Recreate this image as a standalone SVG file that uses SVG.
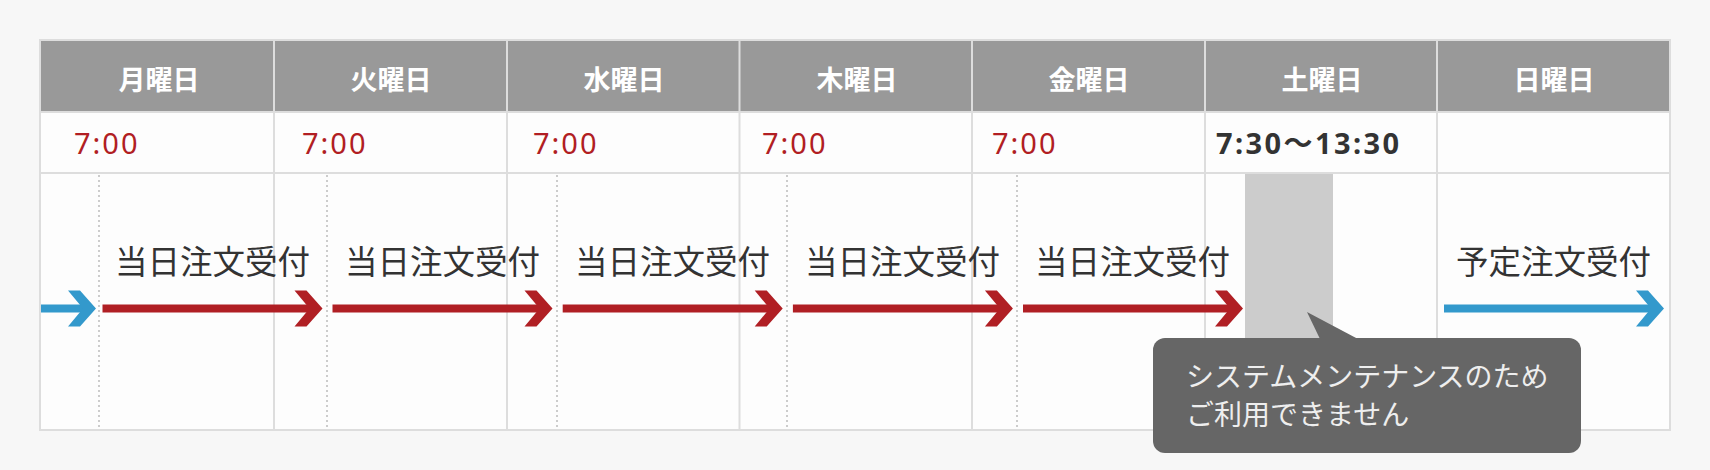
<svg xmlns="http://www.w3.org/2000/svg" width="1710" height="470" viewBox="0 0 1710 470">
<defs>
<style>
.day{font-family:"Noto Sans CJK JP","Noto Sans",sans-serif;font-weight:bold;font-size:27px;fill:#fff;text-anchor:middle}
.t{font-family:"Noto Sans","Noto Sans CJK JP",sans-serif;font-size:29px;letter-spacing:2px;fill:#b11e23}
.tb{font-family:"Noto Sans","Noto Sans CJK JP",sans-serif;font-size:29px;letter-spacing:2.4px;font-weight:bold;fill:#333}
.lbl{font-family:"Noto Sans CJK JP",sans-serif;font-size:32.5px;fill:#333}
.tip{font-family:"Noto Sans CJK JP",sans-serif;font-size:28px;fill:#eee}
.grid{stroke:#ddd;stroke-width:2;fill:none}
.dot{stroke:#ccc;stroke-width:2;stroke-dasharray:2 3}
.red{fill:#b01f24}
.blue{fill:#3399cc}
</style>
<g id="redArrow">
<rect x="0" y="-4" width="215" height="8"/>
<polygon points="192,-18 204,-18 220,0 204,18 192,18 207,0"/>
</g>
</defs>
<rect width="1710" height="470" fill="#f7f7f7"/>
<g id="table">
<rect x="41" y="41" width="1628" height="388" fill="#fdfdfd"/>
<rect x="41" y="41" width="1628" height="71" fill="#999"/>
<line class="grid" x1="41" y1="112" x2="1669" y2="112"/>
<line class="grid" x1="41" y1="173" x2="1669" y2="173"/>
<line class="grid" x1="274" y1="41" x2="274" y2="429"/>
<line class="grid" x1="507" y1="41" x2="507" y2="429"/>
<line class="grid" x1="739.5" y1="41" x2="739.5" y2="429"/>
<line class="grid" x1="972" y1="41" x2="972" y2="429"/>
<line class="grid" x1="1205" y1="41" x2="1205" y2="429"/>
<line class="grid" x1="1437" y1="41" x2="1437" y2="429"/>
<rect class="grid" x="40" y="40" width="1630" height="390"/>
</g>
<g id="headers">
<text class="day" x="159" y="90">月曜日</text>
<text class="day" x="391" y="90">火曜日</text>
<text class="day" x="624" y="90">水曜日</text>
<text class="day" x="857" y="90">木曜日</text>
<text class="day" x="1089" y="90">金曜日</text>
<text class="day" x="1322" y="90">土曜日</text>
<text class="day" x="1554" y="90">日曜日</text>
</g>
<g id="times">
<text class="t" x="74" y="154">7:00</text>
<text class="t" x="302" y="154">7:00</text>
<text class="t" x="533" y="154">7:00</text>
<text class="t" x="762" y="154">7:00</text>
<text class="t" x="992" y="154">7:00</text>
<text class="tb" x="1216" y="154">7:30〜13:30</text>
</g>
<g id="dividers">
<line class="dot" x1="99" y1="175" x2="99" y2="429"/>
<line class="dot" x1="327" y1="175" x2="327" y2="429"/>
<line class="dot" x1="557" y1="175" x2="557" y2="429"/>
<line class="dot" x1="787" y1="175" x2="787" y2="429"/>
<line class="dot" x1="1017" y1="175" x2="1017" y2="429"/>
</g>
<rect id="maintenance" x="1245" y="174" width="88" height="170" fill="#ccc"/>
<g id="labels">
<text class="lbl" x="115" y="274">当日注文受付</text>
<text class="lbl" x="345" y="274">当日注文受付</text>
<text class="lbl" x="575" y="274">当日注文受付</text>
<text class="lbl" x="805" y="274">当日注文受付</text>
<text class="lbl" x="1035" y="274">当日注文受付</text>
<text class="lbl" x="1456" y="274">予定注文受付</text>
</g>
<g id="connectors">
<g class="blue">
<rect x="41" y="304.5" width="48" height="8"/>
<polygon points="68,290.5 80,290.5 96,308.5 80,326.5 68,326.5 83,308.5"/>
</g>
<use href="#redArrow" class="red" x="102.5" y="308.5"/>
<use href="#redArrow" class="red" x="332.5" y="308.5"/>
<use href="#redArrow" class="red" x="562.7" y="308.5"/>
<use href="#redArrow" class="red" x="792.9" y="308.5"/>
<use href="#redArrow" class="red" x="1023" y="308.5"/>
<g class="blue">
<rect x="1444" y="304.5" width="213" height="8"/>
<polygon points="1636,290.5 1648,290.5 1664,308.5 1648,326.5 1636,326.5 1651,308.5"/>
</g>
</g>
<g id="tooltip">
<polygon points="1320,339 1307,312 1358,339" fill="#666"/>
<rect x="1153" y="338" width="428" height="115" rx="12" fill="#666"/>
<text class="tip" x="1186" y="387">システムメンテナンスのため</text>
<text class="tip" x="1186" y="425">ご利用できません</text>
</g>
</svg>
